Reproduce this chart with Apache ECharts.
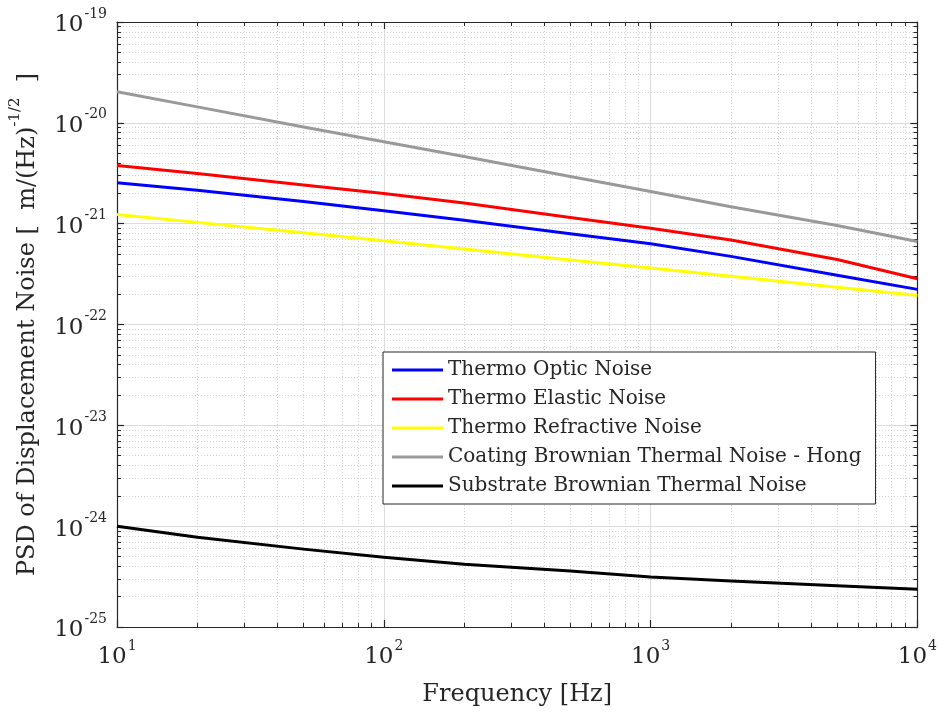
<!DOCTYPE html>
<html>
<head>
<meta charset="utf-8">
<script src="https://cdn.jsdelivr.net/npm/echarts@6/dist/echarts.min.js"></script>
<style>
html,body{margin:0;padding:0;background:#fff;}
#chart{width:940px;height:712px;}
</style>
</head>
<body>
<div id="chart"></div>
<script>
// ---- data ----
const freqs = [10, 20, 50, 100, 200, 500, 1000, 2000, 5000, 10000];
const thermoOptic = [2.55e-21, 2.15e-21, 1.66e-21, 1.34e-21, 1.08e-21, 7.94e-22, 6.33e-22, 4.74e-22, 3.08e-22, 2.23e-22];
const thermoElastic = [3.77e-21, 3.14e-21, 2.42e-21, 1.99e-21, 1.60e-21, 1.15e-21, 9.0e-22, 6.9e-22, 4.41e-22, 2.84e-22];
const thermoRefractive = [1.236e-21, 1.03e-21, 8.13e-22, 6.78e-22, 5.62e-22, 4.36e-22, 3.64e-22, 3.01e-22, 2.34e-22, 1.94e-22];
const coatingBrownian = [2.035e-20, 1.44e-20, 9.1e-21, 6.5e-21, 4.63e-21, 2.93e-21, 2.08e-21, 1.47e-21, 9.6e-22, 6.66e-22];
const substrateBrownian = [1.0e-24, 7.77e-25, 5.92e-25, 4.91e-25, 4.18e-25, 3.60e-25, 3.13e-25, 2.86e-25, 2.56e-25, 2.37e-25];

const seriesNames = ['Thermo Optic Noise', 'Thermo Elastic Noise', 'Thermo Refractive Noise',
  'Coating Brownian Thermal Noise - Hong', 'Substrate Brownian Thermal Noise'];
const seriesColors = ['#0000ff', '#ff0000', '#ffff00', '#999999', '#000000'];
const seriesValues = [thermoOptic, thermoElastic, thermoRefractive, coatingBrownian, substrateBrownian];

const xMin = 10, xMax = 10000;
const yMin = 1e-25, yMax = 1e-19;
const xMajorExps = [1, 2, 3, 4];
const yMajorExps = [-25, -24, -23, -22, -21, -20, -19];
const minorMultipliers = [2, 3, 4, 5, 6, 7, 8, 9];

const xMinor = [];
xMajorExps.slice(0, -1).forEach(e => minorMultipliers.forEach(k => xMinor.push(k * Math.pow(10, e))));
const yMinor = [];
yMajorExps.slice(0, -1).forEach(e => minorMultipliers.forEach(k => yMinor.push(k * Math.pow(10, e))));

const FONT = 'DejaVu Serif';
const TXT = '#262626';
const expRich = {
  b: { fontFamily: FONT, fontSize: 23, color: TXT, lineHeight: 30, verticalAlign: 'bottom' },
  e: { fontFamily: FONT, fontSize: 14, color: TXT, lineHeight: 30, verticalAlign: 'top', padding: [0, 0, 0, 1] }
};
const expFmt = v => '{b|10}{e|' + Math.round(Math.log10(v)) + '}';

function majorAxis(kind, pos, labels) {
  const isX = kind === 'x';
  return {
    type: 'log', logBase: 10, position: pos,
    min: isX ? xMin : yMin, max: isX ? xMax : yMax,
    axisLine: { show: true, onZero: false, lineStyle: { color: TXT, width: 1.2 } },
    axisTick: { show: true, inside: true, length: 7, lineStyle: { color: TXT, width: 1.2 },
      customValues: isX ? xMajorExps.map(e => Math.pow(10, e)) : yMajorExps.map(e => Math.pow(10, e)) },
    axisLabel: labels ? { show: true, formatter: expFmt, rich: expRich, margin: isX ? 12 : 10,
      customValues: isX ? xMajorExps.map(e => Math.pow(10, e)) : yMajorExps.map(e => Math.pow(10, e)) } : { show: false },
    splitLine: { show: labels, lineStyle: { color: '#dcdcdc', width: 1 } },
    minorTick: { show: false }
  };
}
function minorAxis(kind, pos, grid) {
  const isX = kind === 'x';
  return {
    type: 'log', logBase: 10, position: pos,
    min: isX ? xMin : yMin, max: isX ? xMax : yMax,
    axisLine: { show: false, onZero: false },
    axisTick: { show: true, inside: true, length: 4, lineStyle: { color: TXT, width: 1 },
      customValues: isX ? xMinor : yMinor },
    axisLabel: { show: false },
    splitLine: { show: grid, lineStyle: { color: '#d2d2d2', width: 1, type: [1, 2] } }
  };
}

const xAxis = [
  Object.assign(majorAxis('x', 'bottom', true), {
    name: 'Frequency [Hz]', nameLocation: 'middle', nameGap: 56,
    nameTextStyle: { fontFamily: FONT, fontSize: 24, color: TXT }
  }),
  minorAxis('x', 'bottom', true),
  majorAxis('x', 'top', false),
  minorAxis('x', 'top', false)
];
const yAxis = [
  Object.assign(majorAxis('y', 'left', true), {
    name: '{t|PSD of Displacement Noise [  m/(Hz)}{s|-1/2}{t|  ]}', nameLocation: 'middle', nameGap: 77, nameRotate: 90,
    nameTextStyle: { rich: {
      t: { fontFamily: FONT, fontSize: 24, color: TXT, lineHeight: 32, verticalAlign: 'bottom' },
      s: { fontFamily: FONT, fontSize: 15, color: TXT, lineHeight: 32, verticalAlign: 'top' }
    } }
  }),
  minorAxis('y', 'left', true),
  majorAxis('y', 'right', false),
  minorAxis('y', 'right', false)
];

const series = seriesNames.map((name, i) => ({
  name: name, type: 'line', xAxisIndex: 0, yAxisIndex: 0,
  data: freqs.map((f, j) => [f, seriesValues[i][j]]),
  showSymbol: false, symbol: 'none', smooth: false,
  lineStyle: { color: seriesColors[i], width: 3, join: 'round' },
  itemStyle: { color: seriesColors[i] },
  z: 3, animation: false
}));

const chart = echarts.init(document.getElementById('chart'), null, { renderer: 'canvas' });
chart.setOption({
  animation: false,
  backgroundColor: '#ffffff',
  grid: { left: 117, right: 20, top: 22, bottom: 80, containLabel: false },
  xAxis: xAxis,
  yAxis: yAxis,
  legend: {
    orient: 'vertical', left: 383, top: 352,
    data: seriesNames.map((n, i) => ({ name: n, icon: 'rect', itemStyle: { color: seriesColors[i] } })),
    itemWidth: 51, itemHeight: 3, itemGap: 9,
    padding: [8, 14, 8, 9],
    backgroundColor: '#ffffff', borderColor: TXT, borderWidth: 1,
    textStyle: { fontFamily: FONT, fontSize: 20, color: TXT, lineHeight: 20 },
    selectedMode: false
  },
  series: series
});
</script>
</body>
</html>
